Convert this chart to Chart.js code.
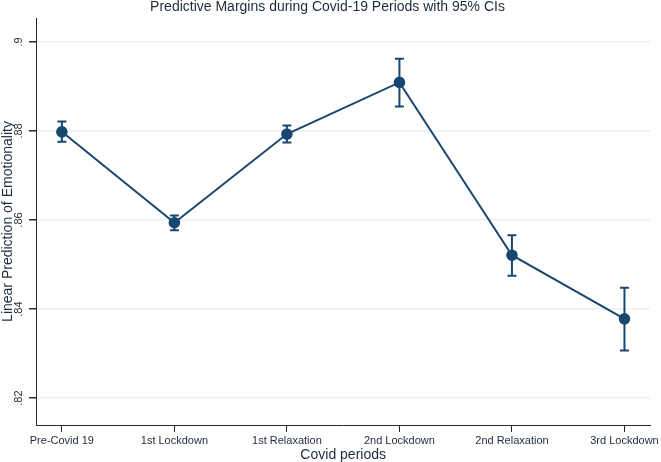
<!DOCTYPE html>
<html>
<head>
<meta charset="utf-8">
<script src="https://cdn.jsdelivr.net/npm/chart.js@4.4.0/dist/chart.umd.min.js"></script>
<style>
  html, body { margin: 0; padding: 0; background: #fff; }
  #wrap { width: 661px; height: 462px; }
</style>
</head>
<body>
<div id="wrap"><canvas id="chart"></canvas></div>
<script>
// Covid periods on the x axis
const periods = ['Pre-Covid 19', '1st Lockdown', '1st Relaxation', '2nd Lockdown', '2nd Relaxation', '3rd Lockdown'];
// predictive margins and 95% CI bounds
const margins = [0.8798, 0.8594, 0.8793, 0.8909, 0.8521, 0.8378];
const ciLow  = [0.8776, 0.8577, 0.8774, 0.8855, 0.8475, 0.8307];
const ciHigh = [0.8821, 0.8610, 0.8812, 0.8962, 0.8566, 0.8448];
// y tick values
const yTicks = [0.82, 0.84, 0.86, 0.88, 0.90];

const navy = '#1a476f';
const ink = '#1e2b3a';
const font = 'Liberation Sans, Arial, Helvetica, sans-serif';

// draws the CI whiskers from the arrays above using the chart scales
const errorBars = {
    id: 'errorBars',
    beforeDatasetsDraw(chart) {
        const ctx = chart.ctx;
        const xs = chart.scales.x, ys = chart.scales.y;
        ctx.save();
        ctx.strokeStyle = navy;
        ctx.lineWidth = 2;
        periods.forEach((p, i) => {
            let x = xs.getPixelForValue(i);
            let y1 = ys.getPixelForValue(ciLow[i]);
            let y2 = ys.getPixelForValue(ciHigh[i]);
            ctx.beginPath();
            ctx.moveTo(x, y1); ctx.lineTo(x, y2);
            ctx.moveTo(x - 4.5, y1); ctx.lineTo(x + 4.5, y1);
            ctx.moveTo(x - 4.5, y2); ctx.lineTo(x + 4.5, y2);
            ctx.stroke();
        });
        ctx.restore();
    }
};

new Chart(document.getElementById('chart'), {
    type: 'line',
    data: {
        datasets: [{
            data: margins.map((v, i) => ({ x: i, y: v })),
            borderColor: navy,
            backgroundColor: navy,
            borderWidth: 2,
            pointRadius: 4.8,
            pointHoverRadius: 4.8,
            pointBackgroundColor: navy,
            pointBorderColor: navy,
            tension: 0
        }]
    },
    options: {
        responsive: true,
        maintainAspectRatio: false,
        animation: false,
        layout: { padding: { left: 0, right: 6, top: 0, bottom: 0 } },
        plugins: {
            legend: { display: false },
            tooltip: { enabled: false },
            title: {
                display: true,
                text: 'Predictive Margins during Covid-19 Periods with 95% CIs',
                color: ink,
                font: { family: font, size: 14, weight: 'normal', lineHeight: 1 },
                padding: { top: 0, bottom: 4 }
            }
        },
        scales: {
            x: {
                type: 'linear',
                min: -0.23,
                max: 5.23,
                afterBuildTicks: s => { s.ticks = periods.map((p, i) => ({ value: i })); },
                afterFit: s => { s.height = 37; },
                ticks: {
                    autoSkip: false,
                    maxRotation: 0,
                    minRotation: 0,
                    padding: 2,
                    color: ink,
                    font: { family: font, size: 11 },
                    callback: v => periods[v]
                },
                grid: { drawOnChartArea: false, drawTicks: true, tickLength: 7, tickColor: ink, lineWidth: 1 },
                border: { color: ink, width: 1 },
                title: {
                    display: true,
                    text: 'Covid periods',
                    color: ink,
                    font: { family: font, size: 14, lineHeight: 1 },
                    padding: { top: 2, bottom: 0 }
                }
            },
            y: {
                min: 0.81397,
                max: 0.90536,
                afterBuildTicks: s => { s.ticks = yTicks.map(v => ({ value: v })); },
                afterFit: s => { s.width = 36; },
                ticks: {
                    minRotation: 90,
                    maxRotation: 90,
                    crossAlign: 'center',
                    padding: 2,
                    color: ink,
                    font: { family: font, size: 11 },
                    callback: v => String(+v.toFixed(2)).replace(/^0/, '')
                },
                grid: { color: '#eaf0f3', lineWidth: 1.5, tickLength: 7, tickColor: ink },
                border: { color: ink, width: 1 },
                title: {
                    display: true,
                    text: 'Linear Prediction of Emotionality',
                    color: ink,
                    font: { family: font, size: 14 },
                    padding: { top: 0, bottom: 0 }
                }
            }
        }
    },
    plugins: [errorBars]
});
</script>
</body>
</html>
